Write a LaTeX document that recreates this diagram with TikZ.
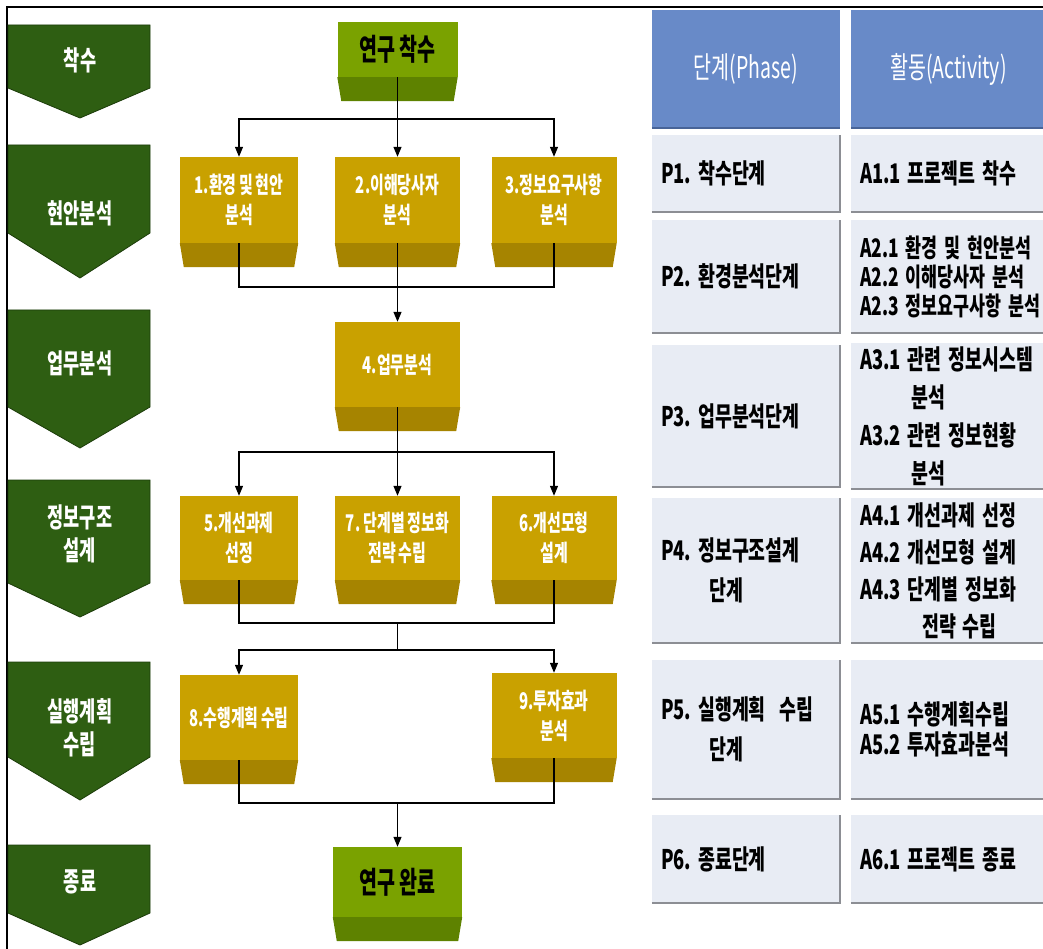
\documentclass[tikz,border=0pt]{standalone}
\usepackage{fontspec}
\usetikzlibrary{arrows.meta}
\newfontfamily\kr[FakeStretch=0.65, WordSpace=0.75]{Noto Sans CJK KR}
\newfontfamily\krt[FakeStretch=0.68]{Noto Sans CJK KR}
\newcommand\tfont[1]{\krt\bfseries\fontsize{27}{#1}\selectfont\frenchspacing\spaceskip=0.26em\relax}

\definecolor{chevgreen}{RGB}{46,94,18}
\definecolor{chevedge}{RGB}{28,60,10}
\definecolor{goldface}{RGB}{201,161,0}
\definecolor{goldband}{RGB}{166,132,0}
\definecolor{leafface}{RGB}{122,162,0}
\definecolor{leafband}{RGB}{94,130,0}
\definecolor{headblue}{RGB}{104,138,200}
\definecolor{headedge}{RGB}{72,100,152}
\definecolor{cellbg}{RGB}{232,236,244}
\definecolor{cellshade}{RGB}{140,142,148}

\tikzset{
  chev/.style={fill=chevgreen, draw=chevedge, line width=0.8pt},
  chevtext/.style={text=white, align=center, font=\kr\bfseries\fontsize{27}{33}\selectfont},
  goldbox/.style={fill=goldface, text=white, align=center, inner sep=0pt,
    font=\kr\bfseries\fontsize{23}{30}\selectfont},
  leafbox/.style={fill=leafface, text=black, align=center, inner sep=0pt,
    minimum height=55pt, font=\kr\bfseries\fontsize{30}{30}\selectfont},
  head/.style={fill=headblue, text=white, minimum height=118pt,
    font=\kr\fontsize{30}{30}\selectfont},
  cell/.style={fill=cellbg, text=black, inner xsep=9pt, align=flush left, font=\tfont{30}},
  lcol/.style={cell, minimum width=188pt, text width=170pt},
  rcol/.style={cell, minimum width=248pt, text width=230pt},
  link/.style={line width=1.2pt},
  arr/.style={link, -{Triangle[length=10pt,width=8pt]}}
}

\begin{document}
\begin{tikzpicture}[x=1pt,y=-1pt]
\clip (0,0) rectangle (1043,949);
\fill[white] (0,0) rectangle (1043,949);
\draw[line width=1.5pt] (7,949) -- (7,7) -- (1043,7);

% phases on the left
\foreach \n/\t/\b/\p/\ty/\txt in {1/25/88/118/60/착수, 2/145/233/278/213/현안분석,
    3/310/407/448/363/업무분석, 4/480/583/617/534/{정보구조\\설계},
    5/662/757/800/728/{실행계획\\수립}, 6/845/913/945/882/종료}{
  \draw[chev] (8,\t) -- (150,\t) -- (150,\b) -- (80,\p) -- (8,\b) -- cycle;
  \node[chevtext] (ph\n) at (80,\ty) {\txt};
}

% flow boxes
\node[leafbox, minimum width=120pt] (start) at (397.5,49.5) {연구 착수};
\node[goldbox, minimum width=118pt, minimum height=86pt] (b1) at (239,200) {1.환경 및 현안\\분석};
\node[goldbox, minimum width=125pt, minimum height=86pt] (b2) at (397.5,200) {2.이해당사자\\분석};
\node[goldbox, minimum width=125pt, minimum height=86pt] (b3) at (554,200) {3.정보요구사항\\분석};
\node[goldbox, minimum width=125pt, minimum height=85pt] (b4) at (397.5,364.5) {4.업무분석};
\node[goldbox, minimum width=118pt, minimum height=84pt] (b5) at (239,538) {5.개선과제\\선정};
\node[goldbox, minimum width=125pt, minimum height=84pt] (b7) at (397.5,538) {7. 단계별 정보화\\전략 수립};
\node[goldbox, minimum width=125pt, minimum height=84pt] (b6) at (554,538) {6.개선모형\\설계};
\node[goldbox, minimum width=118pt, minimum height=85pt] (b8) at (239,717.5) {8.수행계획 수립};
\node[goldbox, minimum width=125pt, minimum height=85pt] (b9) at (554,715.5) {9.투자효과\\분석};
\node[leafbox, minimum width=129pt, minimum height=70pt] (end) at (397.5,882) {연구 완료};

% lower bands
\foreach \b/\c in {start/leafband, end/leafband, b1/goldband, b2/goldband, b3/goldband,
    b4/goldband, b5/goldband, b6/goldband, b7/goldband, b8/goldband, b9/goldband}
  \fill[\c] (\b.south west) -- (\b.south east) -- ([shift={(-4,24)}]\b.south east)
    -- ([shift={(4,24)}]\b.south west) -- cycle;

% connectors
\coordinate (t1) at (397.5,119);
\coordinate (m1) at (397.5,287);
\coordinate (t2) at (397.5,452);
\coordinate (m2) at (397.5,623);
\coordinate (t3) at (397.5,650);
\coordinate (m3) at (397.5,803);
\draw[link] (start.south) -- (t1);
\draw[arr] (t1) -| (b1.north);
\draw[arr] (t1) -- (b2.north);
\draw[arr] (t1) -| (b3.north);
\draw[link] (b1.south) |- (m1 -| b3.south) -- (b3.south);
\draw[arr] (b2.south) -- (b4.north);
\draw[link] (b4.south) -- (t2);
\draw[arr] (t2) -| (b5.north);
\draw[arr] (t2) -- (b7.north);
\draw[arr] (t2) -| (b6.north);
\draw[link] (b5.south) |- (m2 -| b6.south) -- (b6.south);
\draw[link] (m2) -- (t3);
\draw[arr] (t3) -| (b8.north);
\draw[arr] (t3) -| (b9.north);
\draw[link] (b8.south) |- (m3 -| b9.south) -- (b9.south);
\draw[arr] (m3) -- (end.north);

% table
\node[head, minimum width=188pt] (h1) at (746,69) {단계(Phase)};
\node[head, minimum width=195pt] (h2) at (948.5,69) {활동(Activity)};
\node[lcol, minimum height=77pt] (p1) at (746,173.5) {P1. 착수단계};
\node[rcol, minimum height=77pt] (a1) at (975,173.5) {A1.1 프로젝트 착수};
\node[lcol, minimum height=113pt] (p2) at (746,276.5) {P2. 환경분석단계};
\node[rcol, minimum height=113pt, font={\tfont{29}\fontsize{25.5}{29}\selectfont}] (a2) at (975,276.5)
  {A2.1 환경 및 현안분석\\A2.2 이해당사자 분석\\A2.3 정보요구사항 분석};
\node[lcol, minimum height=142pt] (p3) at (746,416) {P3. 업무분석단계};
\node[rcol, minimum height=142pt, font=\tfont{38}] (a3) at (975,416)
  {A3.1 관련 정보시스템\\\hspace*{1.9em}분석\\A3.2 관련 정보현황\\\hspace*{1.9em}분석};
\node[lcol, minimum height=145pt, font=\tfont{40}] (p4) at (746,570.5)
  {P4. 정보구조설계\\\hspace*{1.8em}단계};
\node[rcol, minimum height=145pt, font=\tfont{37}] (a4) at (975,570.5)
  {A4.1 개선과제 선정\\A4.2 개선모형 설계\\A4.3 단계별 정보화\\\hspace*{2.3em}전략 수립};
\node[lcol, minimum height=139pt, font=\tfont{40}] (p5) at (746,729.5)
  {P5. 실행계획\ \ 수립\\\hspace*{1.8em}단계};
\node[rcol, minimum height=139pt] (a5) at (975,729.5) {A5.1 수행계획수립\\A5.2 투자효과분석};
\node[lcol, minimum height=88pt] (p6) at (746,859) {P6. 종료단계};
\node[rcol, minimum height=88pt] (a6) at (975,859) {A6.1 프로젝트 종료};

\foreach \c in {h1,h2}
  \draw[headedge, line width=2pt] (\c.south west) -- (\c.south east);
\foreach \c in {p1,a1,p2,a2,p3,a3,p4,a4,p5,a5,p6,a6}
  \draw[cellshade, line width=2pt] (\c.south west) -- (\c.south east) -- (\c.north east);
\end{tikzpicture}
\end{document}
